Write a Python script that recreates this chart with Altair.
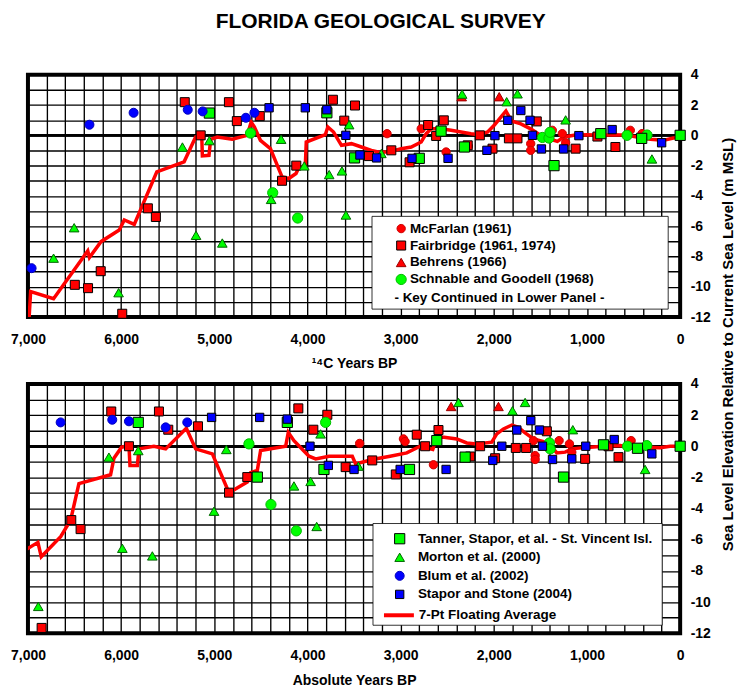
import altair as alt
import pandas as pd

FONT = "Liberation Sans"

# ---------------- series names ----------------
SER_A = ["McFarlan (1961)", "Fairbridge (1961, 1974)", "Behrens (1966)", "Schnable and Goodell (1968)"]
SER_B = ["Tanner, Stapor, et al. - St. Vincent Isl.", "Morton et al. (2000)", "Blum et al. (2002)", "Stapor and Stone (2004)"]
LINE_NAME = "7-Pt Floating Average"

# ---------------- top panel (14C years BP, metres) ----------------
top_mcfarlan = [(3146, 0.11), (2779, 0.43), (2512, -1.1), (2274, -0.72), (1604, -0.55), (1604, -0.99),
                (1372, 0.33), (1265, 0.11), (1229, -0.49), (535, 0.33), (410, 0.11)]
top_fairbridge = [(5317, 2.19), (4843, 2.19), (5146, 0.0), (4758, 0.94), (4512, 1.27), (3727, 2.35),
                  (3490, 1.97), (3605, 0.97), (4273, -3.0), (4120, -2.0), (3340, -1.37), (5713, -4.82),
                  (5627, -5.39), (6497, -9.87), (6355, -10.09), (6219, -8.97), (5988, -11.78),
                  (3100, -0.99), (2904, -1.78), (2705, 0.68), (2619, -0.04), (2537, 0.99), (2280, -0.66),
                  (2150, 0.0), (2014, -0.88), (1838, -0.2), (1746, -0.2), (1539, 0.92), (1122, -0.88),
                  (888, -0.08), (695, -0.77)]
top_behrens = [(2345, 2.55), (1942, 2.55)]
top_schnable = [(4611, 0.15), (4373, -3.79), (4105, -5.46), (1479, -0.14), (1408, -0.18), (1397, 0.2),
                (570, 0.0), (356, 0.02)]
top_tanner = [(5053, 1.47), (3792, 1.49), (3495, -1.49), (2800, -1.52), (2566, 0.28), (2316, -0.77),
              (1354, -2.0), (852, 0.11), (413, -0.2), (0, 0.0)]
top_morton = [(5342, -0.77), (5053, -0.35), (4283, -0.26), (3553, 0.7), (4034, -2.02), (3767, -2.59),
              (3630, -2.35), (3587, -5.26), (4390, -4.23), (6504, -6.1), (6725, -8.11), (6027, -10.39),
              (5196, -6.6), (4914, -7.11), (3207, -1.2), (2340, 2.72), (1862, 2.22), (1746, 2.74),
              (1229, 1.02), (303, -1.56)]
top_blum = [(6961, -8.77), (6340, 0.7), (5866, 1.49), (5285, 1.69), (5125, 1.58), (4661, 1.16), (4569, 1.49)]
top_stapor = [(4412, 1.82), (4023, 1.82), (3792, 1.69), (3588, 0.0), (3437, -1.3), (3258, -1.49),
              (2878, -1.52), (2491, -1.52), (2074, -0.99), (1988, -0.02), (1850, 0.99), (1710, 1.64),
              (1611, 0.99), (1585, 0.0), (1489, -0.9), (1251, -0.9), (1087, -0.02), (730, 0.38), (199, -0.49)]
top_line_x = [6990, 6971, 6725, 6358, 6340, 6216, 6020, 5966, 5859, 5617, 5324, 5200, 5135, 5128, 5057,
              5039, 4968, 4808, 4647, 4604, 4569, 4505, 4398, 4273, 4201, 4123, 4095, 4023, 4013, 3809,
              3781, 3720, 3635, 3528, 3421, 3314, 3207, 3100, 2993, 2886, 2779, 2726, 2672, 2566, 2459,
              2352, 2245, 2156, 2066, 1996, 1924, 1870, 1810, 1710, 1604, 1497, 1390, 1318, 1247, 1141,
              997, 855, 713, 570, 463, 321, 178, 72, 0]
top_line_y = [-12.3, -10.31, -10.79, -7.63, -8.07, -7.02, -6.25, -5.59, -5.88, -2.41, -1.75, -0.11, 0.04,
              -1.36, -1.32, -0.26, -0.11, -0.26, 0.0, 0.88, 0.55, -0.33, -0.88, -2.74, -2.85, -2.52,
              -2.15, -2.02, -0.44, 0.04, 0.55, 0.22, -0.66, -0.55, -0.77, -0.99, -1.14, -1.05, -0.88,
              -0.77, -0.44, 0.11, 0.43, 0.43, 0.33, 0.22, 0.11, 0.04, 0.22, 0.66, 1.2, 1.6, 0.95, 0.76,
              0.43, 0.0, -0.26, -0.4, -0.11, 0.0, 0.04, 0.0, 0.04, 0.0, -0.11, -0.26, -0.33, -0.18, -0.04]

# ---------------- bottom panel (absolute years BP, metres) ----------------
bot_mcfarlan = [(3440, 0.18), (2970, 0.47), (2952, 0.3), (2648, -1.19), (1574, 0.36), (1556, -0.6),
                (1556, -0.85), (1299, 0.36), (1188, 0.15), (1163, -0.38), (526, 0.36)]
bot_fairbridge = [(6106, 2.23), (5594, 2.23), (5916, 0.0), (5494, 1.06), (5175, 1.28), (4098, 2.43),
                  (3787, 2.02), (3937, 1.06), (4842, -2.98), (4646, -1.98), (3590, -1.34), (3305, -0.91),
                  (6535, -4.74), (6435, -5.32), (6853, -11.66), (3052, -1.81), (2827, 0.74), (2737, 0.0),
                  (2594, 1.04), (2254, -0.66), (2147, 0.0), (1986, -0.77), (1764, -0.11), (1653, -0.11),
                  (1431, 0.96), (1020, -0.81), (769, 0.0), (662, -0.7)]
bot_behrens = [(2458, 2.55), (1950, 2.55)]
bot_schnable = [(4628, 0.15), (3805, 1.53), (4392, -3.74), (4120, -5.43), (1403, 0.21), (1395, -0.17),
                (565, 0.0), (358, 0.04)]
bot_tanner = [(5816, 1.53), (4216, 1.53), (4538, -1.98), (3823, -1.49), (2905, -1.49), (2612, 0.36),
              (2308, -0.7), (1252, -1.98), (823, 0.09), (458, -0.13), (0, 0.0)]
bot_morton = [(6131, -0.7), (5816, -0.28), (4871, -0.21), (3859, 0.79), (4145, -2.55), (3966, -2.26),
              (3901, -5.15), (5003, -4.17), (5987, -6.55), (5665, -7.04), (6889, -10.28), (3453, -1.28),
              (2379, 2.81), (1800, 2.28), (1664, 2.81), (1152, 1.06), (376, -1.49)]
bot_blum = [(6649, 1.53), (6095, 1.7), (5916, 1.6), (5522, 1.21), (5290, 1.53)]
bot_stapor = [(5029, 1.85), (4513, 1.85), (4216, 1.74), (3973, 0.0), (3776, -1.23), (3500, -1.49),
              (3005, -1.49), (2512, -1.49), (2011, -0.91), (1914, 0.0), (1753, 1.04), (1603, 1.64),
              (1510, 1.04), (1478, 0.0), (1370, -0.85), (1163, -0.81), (1013, 0.0), (708, 0.43), (304, -0.49)]
bot_line_x = [7040, 6893, 6857, 6649, 6542, 6453, 6113, 6077, 5995, 5916, 5905, 5826, 5808, 5648, 5522,
              5300, 5200, 5021, 4842, 4646, 4610, 4538, 4503, 4234, 4206, 4145, 3984, 3912, 3769, 3519,
              3483, 3304, 3113, 2934, 2791, 2655, 2612, 2533, 2397, 2290, 2183, 2022, 1968, 1896, 1807,
              1735, 1664, 1574, 1467, 1360, 1324, 1234, 1163, 1038, 823, 644, 501, 358, 215, 107, 0]
bot_line_y = [-6.7, -6.17, -7.09, -5.81, -4.74, -2.4, -1.83, -0.77, -0.06, 0.04, -1.23, -1.23, -0.17, 0.0,
              -0.17, 1.15, -0.17, -0.49, -2.98, -2.3, -1.7, -1.55, -0.28, 0.0, 0.89, 0.36, -0.64, -0.81,
              -0.64, -0.64, -1.13, -0.85, -0.64, -0.43, 0.0, -0.21, 0.57, 0.57, 0.47, 0.21, 0.15, 0.26,
              0.79, 1.11, 1.36, 1.21, 0.85, 0.47, 0.3, -0.17, -0.43, -0.38, -0.17, -0.09, 0.0, 0.04,
              -0.13, -0.06, -0.09, 0.0, 0.0]

# ---------------- styling tables ----------------
FILL_A = ["#ff0000", "#ff0000", "#ff0000", "#00ff00"]
STROKE_A = ["#cc0000", "#000000", "#990000", "#00bb00"]
SHAPE_A = ["circle", "square", "triangle-up", "circle"]
SIZE_A = [70, 105, 70, 70]
FILL_B = ["#00ff00", "#00ff00", "#0000ff", "#0000ff"]
STROKE_B = ["#000000", "#006600", "#0000bb", "#000000"]
SHAPE_B = ["square", "triangle-up", "circle", "square"]
SIZE_B = [105, 70, 70, 105]


def points_df(series_lists, names):
    rows = []
    for pts, nm in zip(series_lists, names):
        for (yr, m) in pts:
            rows.append({"year": yr, "m": m, "series": nm})
    return pd.DataFrame(rows)


def line_df(xs, ys):
    return pd.DataFrame({"year": xs, "m": ys, "i": list(range(len(xs))), "lbl": [LINE_NAME] * len(xs)})


W = 654
X_VALUES = list(range(0, 7001, 200))
Y_VALUES = list(range(-12, 5, 1))

LEG_COMMON = dict(
    orient="none", padding=0, labelFont=FONT, labelFontSize=13.5, labelFontWeight="bold",
    labelColor="black", titleFont=FONT, titleFontSize=13.5, titleFontWeight="bold", titleColor="black",
    labelLimit=400, titleLimit=400, symbolOpacity=1,
)


def legend(**kw):
    d = dict(LEG_COMMON)
    d.setdefault("symbolStrokeWidth", 1)
    d.update(kw)
    return alt.Legend(**d)


def panel(df_a, df_b, df_line, height, xtitle, ytitle, legend_side, box):
    x_enc = alt.X(
        "year:Q",
        scale=alt.Scale(domain=[0, 7000], reverse=True, nice=False),
        axis=alt.Axis(
            values=X_VALUES, tickCount=400, title=xtitle, grid=True, ticks=False, domain=False,
            labelExpr="datum.value % 1000 == 0 ? format(datum.value, ',') : ''",
            labelFlush=False, labelOverlap=False, labelPadding=15, titlePadding=11,
        ),
    )
    y_axis = dict(
        orient="right", values=Y_VALUES, tickCount=400, grid=True, ticks=False, domain=False,
        labelExpr="datum.value % 2 == 0 ? '' + datum.value : ''", labelOverlap=False,
        labelPadding=10, labelBaseline="middle",
    )
    if ytitle:
        y_axis.update(title=ytitle, titleAngle=270, titleX=47, titleY=270, titleAlign="center",
                      titleBaseline="middle", titleFontSize=15)
    else:
        y_axis.update(title=None)
    y_enc = alt.Y("m:Q", scale=alt.Scale(domain=[-12, 4], nice=False), axis=alt.Axis(**y_axis))

    bx0, bx1, by0, by1 = box
    bg = alt.Chart(pd.DataFrame({"a": [0]})).mark_rect(
        fill="white", stroke="black", strokeWidth=0.8
    ).encode(x=alt.value(bx0), x2=alt.value(bx1), y=alt.value(by0), y2=alt.value(by1))

    zero = alt.Chart(pd.DataFrame({"m": [0]})).mark_rule(color="black", strokeWidth=2.6).encode(y=y_enc)

    if legend_side == "top":
        leg_a = legend(title="\u00a0\u00a0\u00a0\u00a0- Key Continued in Lower Panel -", titleOrient="bottom",
                       titlePadding=4, legendX=367.5, legendY=147.5, rowPadding=2, labelOffset=2)
        leg_b = None
        line_stroke = alt.Stroke("lbl:N", scale=alt.Scale(domain=[LINE_NAME], range=["#ff0000"]), legend=None)
    else:
        leg_a = None
        leg_b = legend(title=None, legendX=366, legendY=148.5, rowPadding=3.6, labelOffset=11.5)
        line_stroke = alt.Stroke(
            "lbl:N", scale=alt.Scale(domain=[LINE_NAME], range=["#ff0000"]),
            legend=legend(title=None, legendX=355, legendY=215, symbolType="stroke", symbolSize=900,
                          symbolStrokeWidth=4, labelOffset=3),
        )

    line = alt.Chart(df_line).mark_line(strokeWidth=3.5, clip=True).encode(
        x=x_enc, y=y_enc, order=alt.Order("i:Q"), stroke=line_stroke
    )

    def pts(df, names, fills, strokes, shapes, sizes, leg):
        return alt.Chart(df).mark_point(filled=True, opacity=1, strokeWidth=1).encode(
            x=x_enc, y=y_enc,
            fill=alt.Fill("series:N", scale=alt.Scale(domain=names, range=fills), legend=leg),
            stroke=alt.Stroke("series:N", scale=alt.Scale(domain=names, range=strokes), legend=leg),
            shape=alt.Shape("series:N", scale=alt.Scale(domain=names, range=shapes), legend=leg),
            size=alt.Size("series:N", scale=alt.Scale(domain=names, range=sizes), legend=leg),
        )

    pa = pts(df_a, SER_A, FILL_A, STROKE_A, SHAPE_A, SIZE_A, leg_a)
    pb = pts(df_b, SER_B, FILL_B, STROKE_B, SHAPE_B, SIZE_B, leg_b)

    return alt.layer(bg, zero, line, pa, pb).resolve_scale(
        fill="independent", stroke="independent", shape="independent", size="independent"
    ).properties(width=W, height=height)


top_a = points_df([top_mcfarlan, top_fairbridge, top_behrens, top_schnable], SER_A)
top_b = points_df([top_tanner, top_morton, top_blum, top_stapor], SER_B)
bot_a = points_df([bot_mcfarlan, bot_fairbridge, bot_behrens, bot_schnable], SER_A)
bot_b = points_df([bot_tanner, bot_morton, bot_blum, bot_stapor], SER_B)

top_chart = panel(top_a, top_b, line_df(top_line_x, top_line_y), 243, "\u00b9\u2074C Years BP",
                  "Sea Level Elevation Relative to Current Sea Level (m MSL)", "top", (345, 642, 142, 235))
bot_chart = panel(bot_a, bot_b, line_df(bot_line_x, bot_line_y), 250, "Absolute Years BP",
                  None, "bottom", (346, 636, 140, 242))

chart = alt.vconcat(top_chart, bot_chart, spacing=67, bounds="flush").resolve_scale(
    fill="independent", stroke="independent", shape="independent", size="independent",
    x="independent", y="independent"
).properties(
    title=alt.TitleParams("FLORIDA GEOLOGICAL SURVEY", font=FONT, fontSize=21, fontWeight="bold",
                          color="black", anchor="middle", offset=33.5, dx=8),
    padding={"left": 0, "top": 2, "right": 0, "bottom": 0},
).configure_view(
    stroke="black", strokeWidth=4
).configure_axis(
    gridColor="black", gridWidth=1.35, gridOpacity=1, labelFont=FONT, labelFontSize=14,
    labelFontWeight="bold", labelColor="black", titleFont=FONT, titleFontSize=14,
    titleFontWeight="bold", titleColor="black", zindex=0,
)

chart.save("out.html", embed_options={"renderer": "svg", "actions": False})
